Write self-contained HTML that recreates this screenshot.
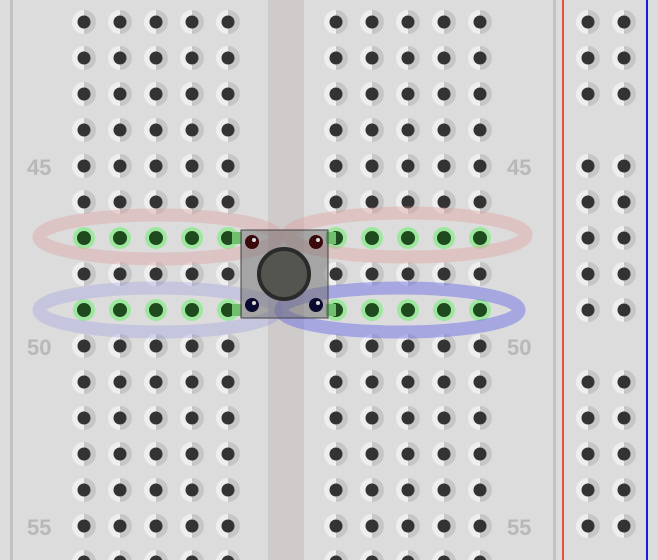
<!DOCTYPE html>
<html><head><meta charset="utf-8"><style>
html,body{margin:0;padding:0;background:#dcdcdc;}
svg{display:block;}
</style></head><body>
<svg id="bb" width="658" height="560" viewBox="0 0 658 560" xmlns="http://www.w3.org/2000/svg">
<rect x="0" y="0" width="658" height="560" fill="#dcdcdc"/>
<rect x="10" y="0" width="3" height="560" fill="#c2c2c2"/>
<rect x="268" y="0" width="36" height="560" fill="#cfcbcb"/>
<rect x="553" y="0" width="3" height="560" fill="#c2c2c2"/>
<rect x="562" y="0" width="2" height="560" fill="#e8503a"/>
<rect x="646" y="0" width="2" height="560" fill="#1a1ae0"/>
<g id="holes"></g>
<g font-family="Liberation Sans, sans-serif" font-weight="bold" font-size="22" fill="#b8b8b8">
<text x="27" y="175">45</text>
<text x="27" y="355">50</text>
<text x="27" y="535">55</text>
<text x="507" y="175">45</text>
<text x="507" y="355">50</text>
<text x="507" y="535">55</text>
</g>
<g fill="none" stroke-width="13">
<ellipse cx="158" cy="237" rx="119" ry="22" stroke="rgba(225,150,150,0.33)"/>
<ellipse cx="407" cy="235" rx="119" ry="22" stroke="rgba(225,150,150,0.35)"/>
<ellipse cx="158" cy="310" rx="119" ry="22" stroke="rgba(120,120,230,0.22)"/>
<ellipse cx="400" cy="310" rx="119" ry="22" stroke="rgba(90,90,230,0.42)"/>
</g>
<g>
<rect x="232" y="232" width="10" height="12" fill="#6fbf6f"/>
<rect x="326" y="232" width="10" height="12" fill="#6fbf6f"/>
<rect x="232" y="304" width="10" height="12" fill="#6fbf6f"/>
<rect x="326" y="304" width="10" height="12" fill="#6fbf6f"/>
<rect x="241" y="230" width="87" height="88" fill="rgba(110,110,110,0.5)" stroke="#444" stroke-width="1"/>
<circle cx="284" cy="274" r="25" fill="#555550" stroke="#2a2a2a" stroke-width="4"/>
<circle cx="252" cy="242" r="7" fill="#3a0a0a"/><circle cx="254" cy="240" r="2" fill="#ddd"/>
<circle cx="316" cy="242" r="7" fill="#3a0a0a"/><circle cx="318" cy="240" r="2" fill="#ddd"/>
<circle cx="252" cy="305" r="7" fill="#0a0a30"/><circle cx="254" cy="303" r="2" fill="#ddd"/>
<circle cx="316" cy="305" r="7" fill="#0a0a30"/><circle cx="318" cy="303" r="2" fill="#ddd"/>
</g>
</svg>
<script>
const NS='http://www.w3.org/2000/svg';
const termCols=[84,120,156,192,228,336,372,408,444,480];
const railCols=[588,624];
const rowYs=[22,58,94,130,166,202,238,274,310,346,382,418,454,490,526,562];
const railRows=[22,58,94,166,202,238,274,310,382,418,454,490,526];
const greenRows=[238,310];
const holes=document.getElementById('holes');
function hole(x,y,green){
  const g=document.createElementNS(NS,'g');
  
  
  if(green){
    const c=document.createElementNS(NS,'circle');
    c.setAttribute('cx',x);c.setAttribute('cy',y);c.setAttribute('r',11);c.setAttribute('fill','#9ee79e');
    g.appendChild(c);
    const d=document.createElementNS(NS,'circle');
    d.setAttribute('cx',x);d.setAttribute('cy',y);d.setAttribute('r',7);d.setAttribute('fill','#1e4a1e');
    g.appendChild(d);
  } else {
    const l=document.createElementNS(NS,'path');
    l.setAttribute('d',`M${x} ${y-12}A12 12 0 0 0 ${x} ${y+12}Z`);l.setAttribute('fill','#eeeeee');
    g.appendChild(l);
    const r=document.createElementNS(NS,'path');
    r.setAttribute('d',`M${x} ${y-12}A12 12 0 0 1 ${x} ${y+12}Z`);r.setAttribute('fill','#c6c6c6');
    g.appendChild(r);
    const d=document.createElementNS(NS,'circle');
    d.setAttribute('cx',x);d.setAttribute('cy',y);d.setAttribute('r',6.5);d.setAttribute('fill','#333');
    g.appendChild(d);
  }
  holes.appendChild(g);
}
rowYs.forEach(y=>termCols.forEach(x=>hole(x,y,greenRows.includes(y))));
railRows.forEach(y=>railCols.forEach(x=>hole(x,y,false)));
</script>
</body></html>
